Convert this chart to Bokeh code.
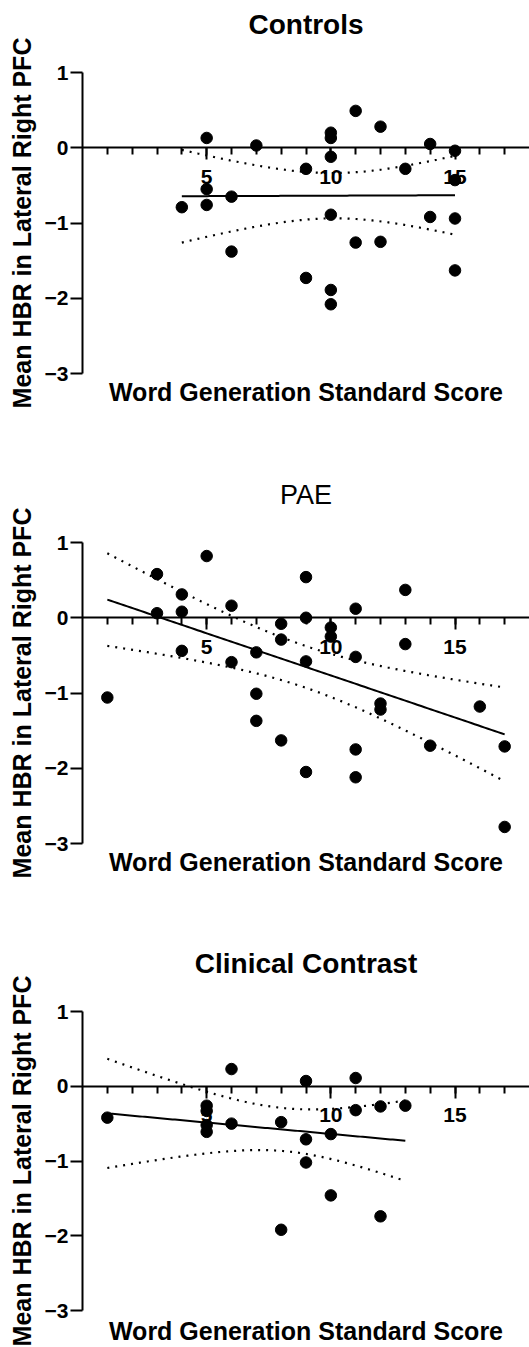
import numpy as np
from bokeh.plotting import figure
from bokeh.layouts import column
from bokeh.models import LinearAxis, FixedTicker, Range1d, Title
from bokeh.embed import file_html
from bokeh.resources import INLINE

X_LABEL = "Word Generation Standard Score"
Y_LABEL = "Mean HBR in Lateral Right PFC"
X_MAJOR = [5, 10, 15]
X_MINOR = list(range(1, 18))
Y_TICKS = [-3, -2, -1, 0, 1]

controls_x = [4, 5, 5, 5, 6, 6, 7, 9, 9, 10, 10, 10, 10, 10, 10, 11, 11, 12, 12, 13, 14, 14, 15, 15, 15, 15]
controls_y = [-0.79, 0.13, -0.55, -0.76, -0.65, -1.38, 0.03, -0.28, -1.73, 0.20, 0.13, -0.12, -0.89, -1.89,
              -2.08, 0.49, -1.26, 0.28, -1.25, -0.28, 0.05, -0.92, -0.04, -0.43, -0.94, -1.63]

pae_x = [1, 3, 3, 4, 4, 4, 5, 6, 6, 7, 7, 7, 8, 8, 8, 9, 9, 9, 9, 10, 10, 11, 11, 11, 11, 12, 12, 13, 13,
         14, 16, 17, 17]
pae_y = [-1.06, 0.58, 0.06, 0.31, 0.08, -0.44, 0.82, 0.16, -0.59, -0.46, -1.01, -1.37, -0.08, -0.29, -1.63,
         0.54, 0.0, -0.58, -2.05, -0.13, -0.25, 0.12, -0.52, -1.75, -2.12, -1.14, -1.22, 0.37, -0.35, -1.70,
         -1.18, -1.71, -2.78]

clin_x = [1, 5, 5, 5, 5, 6, 6, 8, 8, 9, 9, 9, 10, 10, 11, 11, 12, 12, 13]
clin_y = [-0.42, -0.26, -0.33, -0.52, -0.61, 0.23, -0.50, -0.48, -1.92, 0.07, -0.71, -1.02, -0.64, -1.46,
          0.11, -0.32, -0.27, -1.74, -0.26]

# two-sided 95% t critical values by degrees of freedom
T_CRIT = {17: 2.110, 24: 2.064, 31: 2.040}

FONT = "Liberation Sans"
W = 529
FRAME_H = 301
TOP = 72
LEFT = 82


def fit_band(xs, ys):
    x = np.asarray(xs, float)
    y = np.asarray(ys, float)
    n = len(x)
    b, a = np.polyfit(x, y, 1)
    res = y - (a + b * x)
    s = np.sqrt(np.sum(res ** 2) / (n - 2))
    sxx = np.sum((x - x.mean()) ** 2)
    gx = np.linspace(x.min(), x.max(), 120)
    gy = a + b * gx
    hw = T_CRIT[n - 2] * s * np.sqrt(1.0 / n + (gx - x.mean()) ** 2 / sxx)
    return gx, gy, gy - hw, gy + hw


def make_panel(title, bold_title, xs, ys, height, label_standoff):
    p = figure(width=W, height=height, x_range=Range1d(0, 18), y_range=Range1d(-3, 1),
               output_backend="svg", toolbar_location=None)
    p.min_border_left = LEFT
    p.min_border_right = 0
    p.min_border_top = TOP
    p.min_border_bottom = height - TOP - FRAME_H
    p.grid.visible = False
    p.outline_line_color = None
    p.background_fill_color = "white"
    p.border_fill_color = "white"

    # spacer between the frame and the title
    p.add_layout(Title(text=" ", text_font=FONT, text_font_size="20px", standoff=8), "above")

    p.title.text = title
    p.title.text_font = FONT
    p.title.text_font_size = "28px" if bold_title else "27px"
    p.title.text_font_style = "bold" if bold_title else "normal"
    p.title.align = "center"
    p.title.vertical_align = "bottom"
    p.title.text_color = "black"
    p.title.standoff = 2

    xa = p.xaxis[0]
    xa.fixed_location = 0
    xa.ticker = FixedTicker(ticks=X_MAJOR, minor_ticks=X_MINOR)
    xa.major_tick_out = 12
    xa.major_tick_in = 0
    xa.minor_tick_out = 7
    xa.minor_tick_in = 0
    xa.axis_line_width = 2
    xa.major_tick_line_width = 2
    xa.minor_tick_line_width = 2
    xa.axis_line_color = "black"
    xa.major_tick_line_color = "black"
    xa.minor_tick_line_color = "black"
    xa.major_label_text_font = FONT
    xa.major_label_text_font_size = "21px"
    xa.major_label_text_font_style = "bold"
    xa.major_label_text_color = "black"
    xa.major_label_standoff = 10

    ya = p.yaxis[0]
    ya.ticker = FixedTicker(ticks=Y_TICKS, minor_ticks=[])
    ya.major_tick_out = 12
    ya.major_tick_in = 0
    ya.axis_line_width = 2
    ya.major_tick_line_width = 2
    ya.axis_line_color = "black"
    ya.major_tick_line_color = "black"
    ya.major_label_text_font = FONT
    ya.major_label_text_font_size = "21px"
    ya.major_label_text_font_style = "bold"
    ya.major_label_text_color = "black"
    ya.major_label_standoff = 2
    ya.axis_label = Y_LABEL
    ya.axis_label_text_font = FONT
    ya.axis_label_text_font_size = "25px"
    ya.axis_label_text_font_style = "bold"
    ya.axis_label_text_color = "black"
    ya.axis_label_standoff = 6

    lab = LinearAxis(ticker=FixedTicker(ticks=[], minor_ticks=[]), axis_label=X_LABEL,
                     axis_line_color=None, major_tick_line_color=None, minor_tick_line_color=None,
                     major_label_text_font_size="0px", axis_label_standoff=label_standoff,
                     axis_label_text_font=FONT, axis_label_text_font_size="25px",
                     axis_label_text_font_style="bold", axis_label_text_color="black")
    p.add_layout(lab, "below")

    gx, gy, lo, hi = fit_band(xs, ys)
    p.line(gx, lo, line_color="black", line_width=2.2, line_dash="2 6")
    p.line(gx, hi, line_color="black", line_width=2.2, line_dash="2 6")
    p.line(gx, gy, line_color="black", line_width=2)
    p.scatter(xs, ys, size=11.5, color="black")
    return p


p1 = make_panel("Controls", True, controls_x, controls_y, 470, 4)
p2 = make_panel("PAE", False, pae_x, pae_y, 469, 4)
p3 = make_panel("Clinical Contrast", True, clin_x, clin_y, 408, 6)

layout = column(p1, p2, p3, spacing=0)
open("out.html", "w").write(file_html(layout, INLINE))
